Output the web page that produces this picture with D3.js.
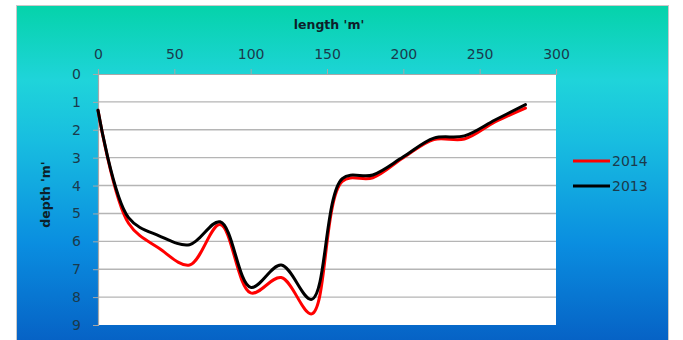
<!DOCTYPE html>
<html>
<head>
<meta charset="utf-8">
<script src="https://cdn.jsdelivr.net/npm/d3@7"></script>
<style>
  html, body { margin: 0; padding: 0; background: #fff; }
  svg { display: block; }
</style>
</head>
<body>
<svg id="chart" width="683" height="340"></svg>
<script>
// Cross-section survey: depth along the transect for two years
const lengths = [0, 20, 40, 60, 80, 100, 120, 140, 160, 180, 200, 220, 240, 260, 280];
const depth2014 = [1.3, 5.35, 6.25, 6.85, 5.4, 7.85, 7.3, 8.6, 3.85, 3.72, 3.0, 2.35, 2.33, 1.72, 1.22];
const depth2013 = [1.3, 5.15, 5.8, 6.12, 5.3, 7.65, 6.85, 8.08, 3.75, 3.62, 2.97, 2.3, 2.22, 1.65, 1.1];
const xTicks = [0, 50, 100, 150, 200, 250, 300];
const yTicks = [0, 1, 2, 3, 4, 5, 6, 7, 8, 9];
const seriesNames = ["2014", "2013"];
const seriesColors = ["#ff0000", "#000000"];

const svg = d3.select("#chart");
const font = "'DejaVu Sans', 'Liberation Sans', sans-serif";
const textColor = "#1b3a4c";

// background panel with vertical gradient
const defs = svg.append("defs");
const grad = defs.append("linearGradient")
  .attr("id", "bg").attr("x1", 0).attr("y1", 0).attr("x2", 0).attr("y2", 1);
[["0%", "#05d3aa"], ["22%", "#1fd4da"], ["40%", "#18bde0"], ["70%", "#0a8ee0"], ["100%", "#0660c4"]]
  .forEach(([o, c]) => grad.append("stop").attr("offset", o).attr("stop-color", c));

svg.append("rect")
  .attr("x", 16.5).attr("y", 5.5).attr("width", 652).attr("height", 340)
  .attr("fill", "url(#bg)").attr("stroke", "#c9c9c9").attr("stroke-width", 1);

const plot = { left: 98, right: 556, top: 74, bottom: 325 };
const x = d3.scaleLinear().domain([0, 300]).range([plot.left, plot.right]);
const y = d3.scaleLinear().domain([0, 9]).range([plot.top, plot.bottom]);

// white plot area
svg.append("rect")
  .attr("x", plot.left).attr("y", plot.top)
  .attr("width", plot.right - plot.left).attr("height", plot.bottom - plot.top)
  .attr("fill", "#ffffff");

// horizontal gridlines
svg.append("g").selectAll("line")
  .data(yTicks.filter(d => d > 0 && d < 9))
  .join("line")
  .attr("x1", plot.left).attr("x2", plot.right)
  .attr("y1", d => y(d)).attr("y2", d => y(d))
  .attr("stroke", "#b5b5b5").attr("stroke-width", 1.4);

// top axis (length)
const xAxis = svg.append("g")
  .attr("transform", `translate(0,${plot.top})`)
  .call(d3.axisTop(x).tickValues(xTicks).tickSize(5).tickPadding(10));
xAxis.select(".domain").attr("stroke", "#a8a8a8").attr("stroke-width", 1.2);
xAxis.selectAll(".tick line").attr("stroke", "#a8a8a8");
xAxis.selectAll(".tick text")
  .attr("fill", textColor).style("font-family", font).style("font-size", "14px");

// left axis (depth)
const yAxis = svg.append("g")
  .attr("transform", `translate(${plot.left},0)`)
  .call(d3.axisLeft(y).tickValues(yTicks).tickSize(5).tickPadding(12));
yAxis.select(".domain").attr("stroke", "#a8a8a8").attr("stroke-width", 1.2);
yAxis.selectAll(".tick line").attr("stroke", "#a8a8a8");
yAxis.selectAll(".tick text")
  .attr("fill", textColor).style("font-family", font).style("font-size", "14px");

// axis titles
svg.append("text")
  .attr("x", (x(0) + x(300)) / 2 + 2).attr("y", 29)
  .attr("text-anchor", "middle")
  .attr("fill", "#0d1f2a").style("font-family", font).style("font-size", "12.5px").style("font-weight", "bold")
  .text("length 'm'");
svg.append("text")
  .attr("transform", `translate(50,${(plot.top + plot.bottom) / 2 - 5}) rotate(-90)`)
  .attr("text-anchor", "middle")
  .attr("fill", "#0d1f2a").style("font-family", font).style("font-size", "12.5px").style("font-weight", "bold")
  .text("depth 'm'");

// smoothed depth profiles
const line = d3.line()
  .x((d, i) => x(lengths[i]))
  .y(d => y(d))
  .curve(d3.curveCatmullRom.alpha(0.5));

[depth2014, depth2013].forEach((vals, k) => {
  svg.append("path")
    .datum(vals)
    .attr("d", line)
    .attr("fill", "none")
    .attr("stroke", seriesColors[k])
    .attr("stroke-width", 3)
    .attr("stroke-linejoin", "round")
    .attr("stroke-linecap", "round");
});

// legend
const legend = svg.append("g").attr("transform", "translate(573,161)");
seriesNames.forEach((name, i) => {
  const g = legend.append("g").attr("transform", `translate(0,${i * 25})`);
  g.append("line").attr("x1", 0).attr("x2", 37).attr("y1", 0).attr("y2", 0)
    .attr("stroke", seriesColors[i]).attr("stroke-width", 3);
  g.append("text").attr("x", 39).attr("y", 5)
    .attr("fill", textColor).style("font-family", font).style("font-size", "14px")
    .text(name);
});
</script>
</body>
</html>
